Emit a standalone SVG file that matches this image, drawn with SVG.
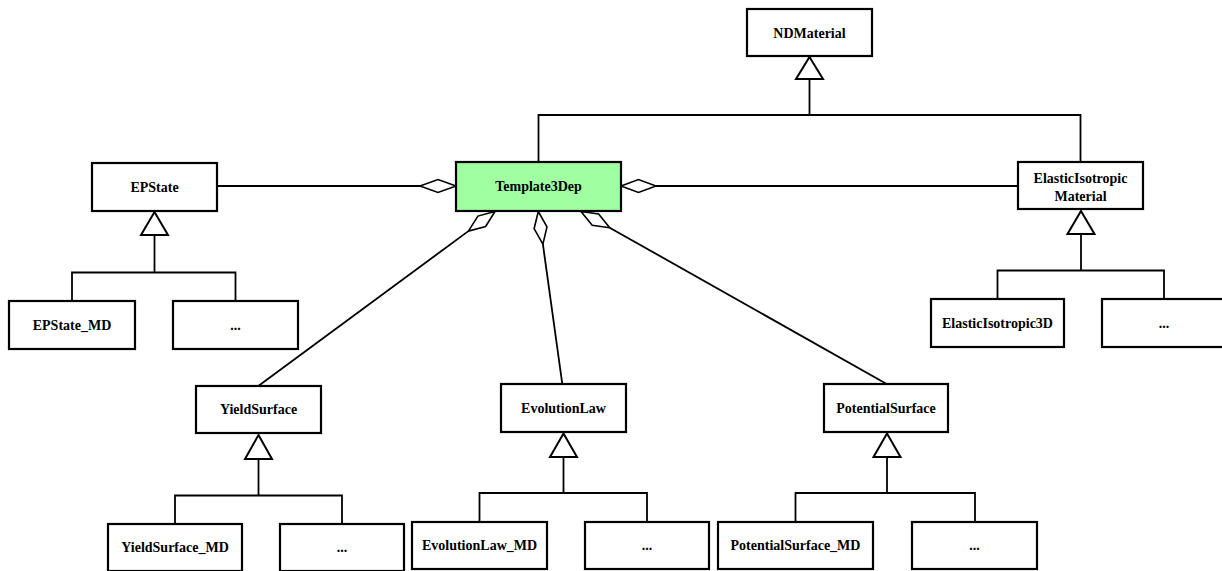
<svg xmlns="http://www.w3.org/2000/svg" width="1222" height="571" viewBox="0 0 1222 571">
<style>
.box{fill:#fff;stroke:#000;stroke-width:2.2}
.main{fill:#a0ffa0;stroke:#000;stroke-width:2.2}
.t{font-family:"Liberation Serif","Times New Roman",serif;font-weight:bold;font-size:14px;text-anchor:middle;fill:#000}
.ln{fill:none;stroke:#000;stroke-width:1.8}
.tri{fill:#fff;stroke:#000;stroke-width:2}
.dia{fill:#fff;stroke:#000;stroke-width:1.6}
</style>
<rect width="1222" height="571" fill="#fff"/>
<g id="connectors">
  <!-- generalization to NDMaterial -->
  <polyline class="ln" points="538.5,162 538.5,115 1080.5,115 1080.5,162"/>
  <line class="ln" x1="809.5" y1="79" x2="809.5" y2="115"/>
  <polygon class="tri" points="809.5,57 823,79 796,79"/>
  <!-- aggregation EPState -->
  <line class="ln" x1="217" y1="186" x2="420" y2="186"/>
  <polygon class="dia" points="456,186 438,179.5 420,186 438,192.5"/>
  <!-- aggregation ElasticIsotropic -->
  <line class="ln" x1="656" y1="186" x2="1018" y2="186"/>
  <polygon class="dia" points="621,186 638.5,179.5 656,186 638.5,192.5"/>
  <!-- aggregation YieldSurface -->
  <line class="ln" x1="468.4" y1="231.1" x2="258.3" y2="386"/>
  <polygon class="dia" points="495,211.5 477.9,216.1 468.4,231.1 485.6,226.5"/>
  <!-- aggregation EvolutionLaw -->
  <line class="ln" x1="542.9" y1="244.2" x2="562.3" y2="384"/>
  <polygon class="dia" points="538.3,211.5 534.1,228.7 542.9,244.2 547,226.9"/>
  <!-- aggregation PotentialSurface -->
  <line class="ln" x1="609.7" y1="227.7" x2="886.7" y2="384"/>
  <polygon class="dia" points="581,211.5 598.6,214 609.7,227.7 592.2,225.3"/>
  <!-- EPState tree -->
  <polyline class="ln" points="72,301 72,272.5 235.5,272.5 235.5,301"/>
  <line class="ln" x1="154.5" y1="235" x2="154.5" y2="272.5"/>
  <polygon class="tri" points="154.5,212 168,235 141,235"/>
  <!-- ElasticIsotropic tree -->
  <polyline class="ln" points="997.5,299 997.5,270.5 1164,270.5 1164,299"/>
  <line class="ln" x1="1081" y1="234" x2="1081" y2="270.5"/>
  <polygon class="tri" points="1081,211 1094.5,234 1067.5,234"/>
  <!-- YieldSurface tree -->
  <polyline class="ln" points="175,524 175,495.5 342,495.5 342,524"/>
  <line class="ln" x1="258.5" y1="459" x2="258.5" y2="495.5"/>
  <polygon class="tri" points="258.5,435 272,459 245,459"/>
  <!-- EvolutionLaw tree -->
  <polyline class="ln" points="479.5,522 479.5,493 647,493 647,522"/>
  <line class="ln" x1="563.5" y1="457" x2="563.5" y2="493"/>
  <polygon class="tri" points="563.5,433.5 577,457 550,457"/>
  <!-- PotentialSurface tree -->
  <polyline class="ln" points="795.5,522 795.5,493 975,493 975,522"/>
  <line class="ln" x1="887" y1="457" x2="887" y2="493"/>
  <polygon class="tri" points="887,433.5 900.5,457 873.5,457"/>
</g>
<g id="NDMaterial"><rect class="box" x="747" y="9" width="125" height="47"/><text class="t" x="809.5" y="37.5">NDMaterial</text></g>
<g id="Template3Dep"><rect class="main" x="456" y="162" width="165" height="49"/><text class="t" x="538.5" y="191">Template3Dep</text></g>
<g id="EPState"><rect class="box" x="92" y="163" width="125" height="48"/><text class="t" x="154.5" y="192">EPState</text></g>
<g id="ElasticIsotropicMaterial"><rect class="box" x="1018" y="162" width="125" height="47"/><text class="t" x="1080.5" y="183">ElasticIsotropic</text><text class="t" x="1080.5" y="201">Material</text></g>
<g id="EPState_MD"><rect class="box" x="9" y="301" width="126" height="48"/><text class="t" x="72" y="330">EPState_MD</text></g>
<g id="EPState_more"><rect class="box" x="173" y="301" width="125" height="48"/><text class="t" x="235.5" y="330">...</text></g>
<g id="ElasticIsotropic3D"><rect class="box" x="931" y="299" width="133" height="48"/><text class="t" x="997.5" y="328">ElasticIsotropic3D</text></g>
<g id="ElasticIsotropic_more"><rect class="box" x="1102" y="299" width="124" height="48"/><text class="t" x="1164" y="328">...</text></g>
<g id="YieldSurface"><rect class="box" x="196" y="386" width="125" height="47"/><text class="t" x="258.5" y="414">YieldSurface</text></g>
<g id="EvolutionLaw"><rect class="box" x="501" y="384" width="125" height="48"/><text class="t" x="563.5" y="413">EvolutionLaw</text></g>
<g id="PotentialSurface"><rect class="box" x="824" y="384" width="124" height="48"/><text class="t" x="886" y="413">PotentialSurface</text></g>
<g id="YieldSurface_MD"><rect class="box" x="108" y="524" width="134" height="47"/><text class="t" x="175" y="552">YieldSurface_MD</text></g>
<g id="YieldSurface_more"><rect class="box" x="280" y="524" width="124" height="47"/><text class="t" x="342" y="552">...</text></g>
<g id="EvolutionLaw_MD"><rect class="box" x="412" y="522" width="135" height="47"/><text class="t" x="479.5" y="550">EvolutionLaw_MD</text></g>
<g id="EvolutionLaw_more"><rect class="box" x="585" y="522" width="124" height="47"/><text class="t" x="647" y="550">...</text></g>
<g id="PotentialSurface_MD"><rect class="box" x="718" y="522" width="155" height="47"/><text class="t" x="795.5" y="550">PotentialSurface_MD</text></g>
<g id="PotentialSurface_more"><rect class="box" x="912" y="522" width="125" height="47"/><text class="t" x="974.5" y="550">...</text></g>
</svg>
